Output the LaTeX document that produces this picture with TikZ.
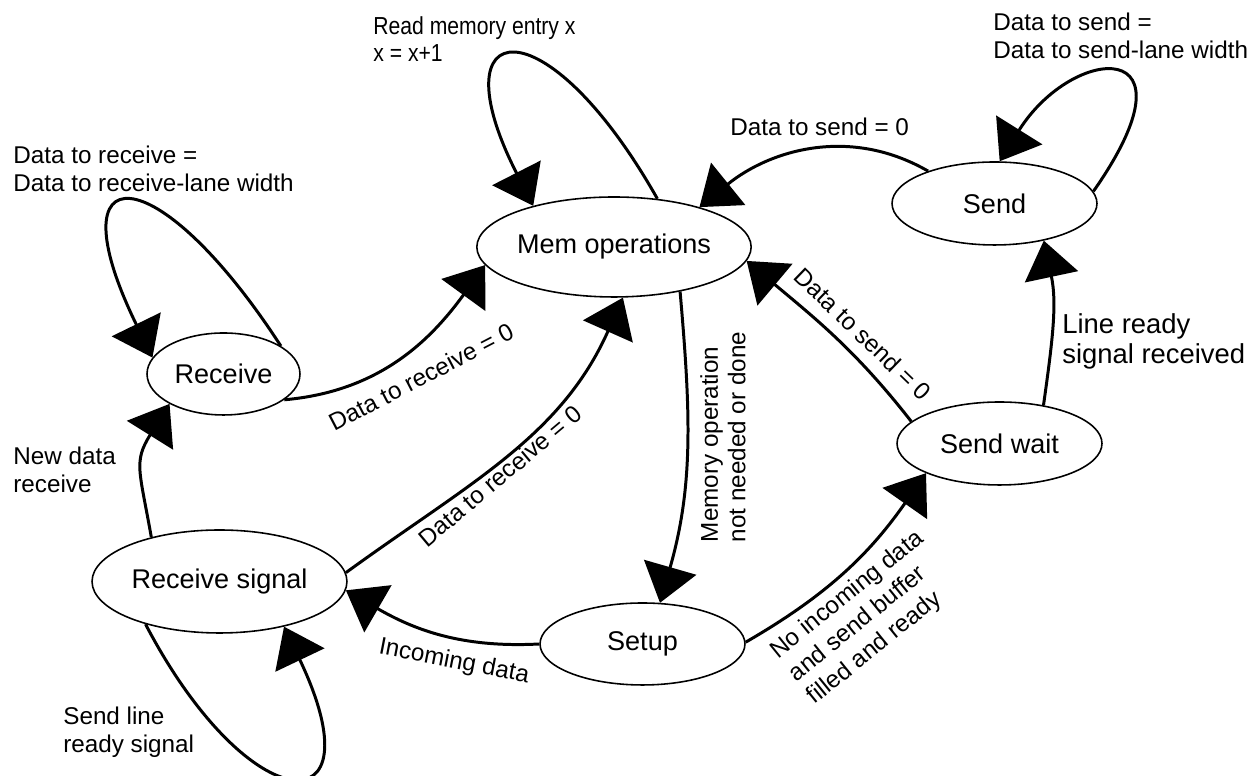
\documentclass[tikz,border=0pt]{standalone}
\usepackage{fontspec}
\setmainfont{Liberation Sans}
\newfontfamily\narrowsans[FakeStretch=0.86]{Liberation Sans}
\usetikzlibrary{shapes.geometric,arrows.meta}

\newcommand\statefont{\fontsize{15.4}{18}\selectfont}
\newcommand\lblfont{\fontsize{13.8}{15.6}\selectfont}
\newcommand\biglblfont{\fontsize{15.6}{17}\selectfont}

\tikzset{
  state/.style={draw, line width=0.9pt, ellipse, inner sep=0pt, font=\statefont},
  trans/.style={line width=1.7pt, -{Triangle[length=0.74cm, width=1.08cm]}},
  lbl/.style={inner sep=0pt, font=\lblfont, align=left},
}

\begin{document}
\begin{tikzpicture}[x=0.02cm, y=0.02cm]
\useasboundingbox (0,0) rectangle (1259,776);

% states
\node[state, minimum width=5.08cm, minimum height=2.0cm]  (mem)      at (614,529)     {Mem operations};
\node[state, minimum width=3.06cm, minimum height=1.64cm] (receive)  at (223.5,402)   {Receive};
\node[state, minimum width=5.10cm, minimum height=2.06cm] (rsig)     at (219.5,194.5) {Receive signal};
\node[state, minimum width=4.10cm, minimum height=1.64cm] (setup)    at (642.5,132)   {Setup};
\node[state, minimum width=4.10cm, minimum height=1.66cm] (sendwait) at (999.5,332.5) {Send wait};
\node[state, minimum width=4.10cm, minimum height=1.66cm] (send)     at (994.5,572.5) {Send};

% transitions
\draw[trans] (receive.26) .. controls +(123:229) and +(116:229) .. (receive.167);
\draw[trans] (receive.-23) to[out=5, in=234] (mem.188);
\draw[trans] (rsig.4) to[out=36, in=246] (mem.-80);
\draw[trans] (mem.-34) to[out=-85, in=74] (setup.67);
\draw[trans] (setup.180) to[out=183, in=-30] (rsig.-4.9);
\draw[trans] (setup.1) to[out=30, in=235] (sendwait.202.4);
\draw[trans] (sendwait.166.5) to[out=128, in=-40] (mem.-6);
\draw[trans] (sendwait.41.5) to[out=82, in=-78] (send.-37);
\draw[trans] (send.154.6) to[out=150, in=39, looseness=1.0] (mem.25);
\draw[trans] (mem.48) .. controls +(119.5:228) and +(117:215) .. (mem.153);
\draw[trans] (send.7.8) .. controls +(55:192) and +(58:138) .. (send.83);
\draw[trans] (rsig.147.5) to[out=100, in=238, looseness=1.3] (receive.209);
\draw[trans] (rsig.210) .. controls +(-62.4:224) and +(-64.5:224) .. (rsig.-35.5);

% transition labels
\node[lbl, anchor=north west] (lrecvloop) at (13,630) {Data to receive =\\Data to receive-lane width};
\node[lbl, anchor=north west, font={\narrowsans\fontsize{14}{15.6}\selectfont}] (lmemloop) at (373,760) {Read memory entry x\\x = x+1};
\node[lbl, anchor=north west] (lsendtop) at (730,658) {Data to send = 0};
\node[lbl, anchor=north west] (lsendloop) at (993,763) {Data to send =\\Data to send-lane width};
\node[lbl, anchor=north west, font=\biglblfont] (lready) at (1062,463) {Line ready\\signal received};
\node[lbl, anchor=north west] (lnewdata) at (13,329) {New data\\receive};
\node[lbl, anchor=north west] (lsendline) at (63,69) {Send line\\ready signal};
\node[lbl, rotate=27.5] (lrecvone) at (421,399) {Data to receive = 0};
\node[lbl, rotate=40] (lrecvtwo) at (500,300) {Data to receive = 0};
\node[lbl, rotate=-44] (lsenddiag) at (863,442) {Data to send = 0};
\node[lbl, rotate=90] (lmemop) at (723,339) {Memory operation\\not needed or done};
\node[lbl, rotate=-11] (lincoming) at (454,114) {Incoming data};
\node[lbl, rotate=39, font={\fontsize{13.8}{16.6}\selectfont}] (lnoinc) at (866,158) {No incoming data\\and send buffer\\filled and ready};
\end{tikzpicture}
\end{document}
